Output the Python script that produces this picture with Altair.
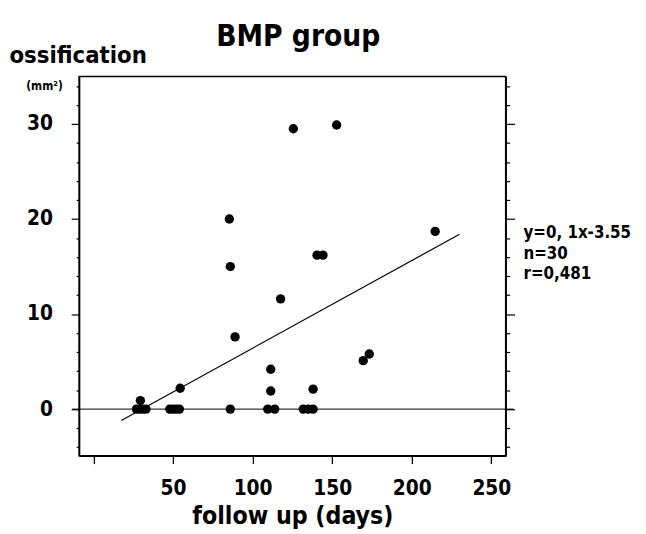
import altair as alt
import pandas as pd

# ---- data ----
days = [125.6, 152.8, 85.4, 214.7, 140.5, 144.2, 86.0, 117.6, 89.0, 169.5,
        173.3, 111.4, 29.5, 54.5, 111.4, 138.0,
        27.0, 29.0, 31.0, 33.0, 48.0, 50.0, 52.0, 54.0, 86.0, 109.5,
        113.9, 131.8, 135.0, 138.0]
ossification = [29.5, 29.9, 20.0, 18.7, 16.2, 16.2, 15.0, 11.6, 7.6, 5.1,
                5.8, 4.2, 0.9, 2.2, 1.9, 2.1,
                0, 0, 0, 0, 0, 0, 0, 0, 0, 0,
                0, 0, 0, 0]
fit_days = [17.5, 230.0]
fit_values = [-1.2, 18.4]
x_ticks = [0, 50, 100, 150, 200, 250]
y_ticks = list(range(-4, 35, 2))
stats = ["y=0, 1x-3.55", "n=30", "r=0,481"]
title_text = "BMP group"

FONT = "DejaVu Sans Condensed, Liberation Sans Narrow, DejaVu Sans, sans-serif"

pts = pd.DataFrame({"days": days, "oss": ossification})
fit = pd.DataFrame({"days": fit_days, "oss": fit_values})
one = pd.DataFrame({"k": [0]})

xscale = alt.Scale(domain=[-9, 259], nice=False, zero=False)
yscale = alt.Scale(domain=[-4.9, 35], nice=False, zero=False)

major = "datum.value % 10 === 0"

x_axis = alt.Axis(values=x_ticks, title="follow up (days)", grid=False,
                  labelExpr="datum.value === 0 ? '' : datum.label",
                  domainColor="black", domainWidth=1.5, tickColor="black",
                  tickWidth=1.3, tickSize=8, labelPadding=14,
                  labelFont=FONT, labelFontSize=21, labelFontWeight="bold",
                  labelColor="black", titleFont=FONT, titleFontSize=25,
                  titleFontWeight="bold", titleColor="black",
                  titleBaseline="alphabetic", titleY=69)

left_axis = alt.Axis(values=y_ticks, orient="left", grid=False,
                     labelExpr=f"{major} ? datum.label : ''",
                     title="ossification", titleAngle=0, titleAlign="left",
                     titleBaseline="alphabetic", titleX=-71, titleY=-14,
                     titleFont=FONT, titleFontSize=24, titleFontWeight="bold",
                     titleColor="black",
                     domainColor="black", domainWidth=1.5, tickColor="black",
                     tickWidth=1.2,
                     tickSize={"condition": {"test": major, "value": 8}, "value": 3},
                     labelPadding=19, labelFont=FONT, labelFontSize=21,
                     labelFontWeight="bold", labelColor="black")

right_axis = alt.Axis(values=y_ticks, orient="right", grid=False, labels=False,
                      title=None, domainColor="black", domainWidth=1.5,
                      tickColor="black", tickWidth=1.2,
                      tickSize={"condition": {"test": major, "value": 9}, "value": 4})

zero_line = alt.Chart(one).mark_rule(color="black", strokeWidth=1).encode(
    y=alt.YDatum(0, scale=yscale, axis=None),
    x=alt.value(-7), x2=alt.value(440))

fit_line = alt.Chart(fit).mark_line(color="black", strokeWidth=1.2, clip=False).encode(
    x=alt.X("days:Q", scale=xscale, axis=x_axis),
    y=alt.Y("oss:Q", scale=yscale, axis=right_axis))

points = alt.Chart(pts).mark_circle(color="black", opacity=1, size=90).encode(
    x=alt.X("days:Q", scale=xscale, axis=x_axis),
    y=alt.Y("oss:Q", scale=yscale, axis=left_axis))

stats_text = alt.Chart(one).mark_text(
    text=stats, align="left", baseline="middle", font=FONT, fontSize=17,
    fontWeight="bold", color="black", lineHeight=20.5).encode(
    x=alt.value(450), y=alt.value(159))

unit_text = alt.Chart(one).mark_text(
    text="(mm²)", align="center", baseline="middle", font=FONT, fontSize=12,
    fontWeight="bold", color="black").encode(
    x=alt.value(-35), y=alt.value(10))

title_mark = alt.Chart(one).mark_text(
    text=title_text, align="center", baseline="alphabetic", font=FONT,
    fontSize=30, fontWeight="bold", color="black").encode(
    x=alt.value(222), y=alt.value(-31))

chart = alt.layer(zero_line, points, fit_line, stats_text, unit_text, title_mark).resolve_axis(
    y="independent"
).properties(
    width=432, height=384,
    autosize=alt.AutoSizeParams(type="none"),
    padding={"left": 72, "top": 66, "right": 134, "bottom": 80},
).configure(
    background="white",
    view=alt.ViewConfig(stroke="black", strokeWidth=1.5),
)

chart.save("out.html", embed_options={"renderer": "svg", "actions": False})
